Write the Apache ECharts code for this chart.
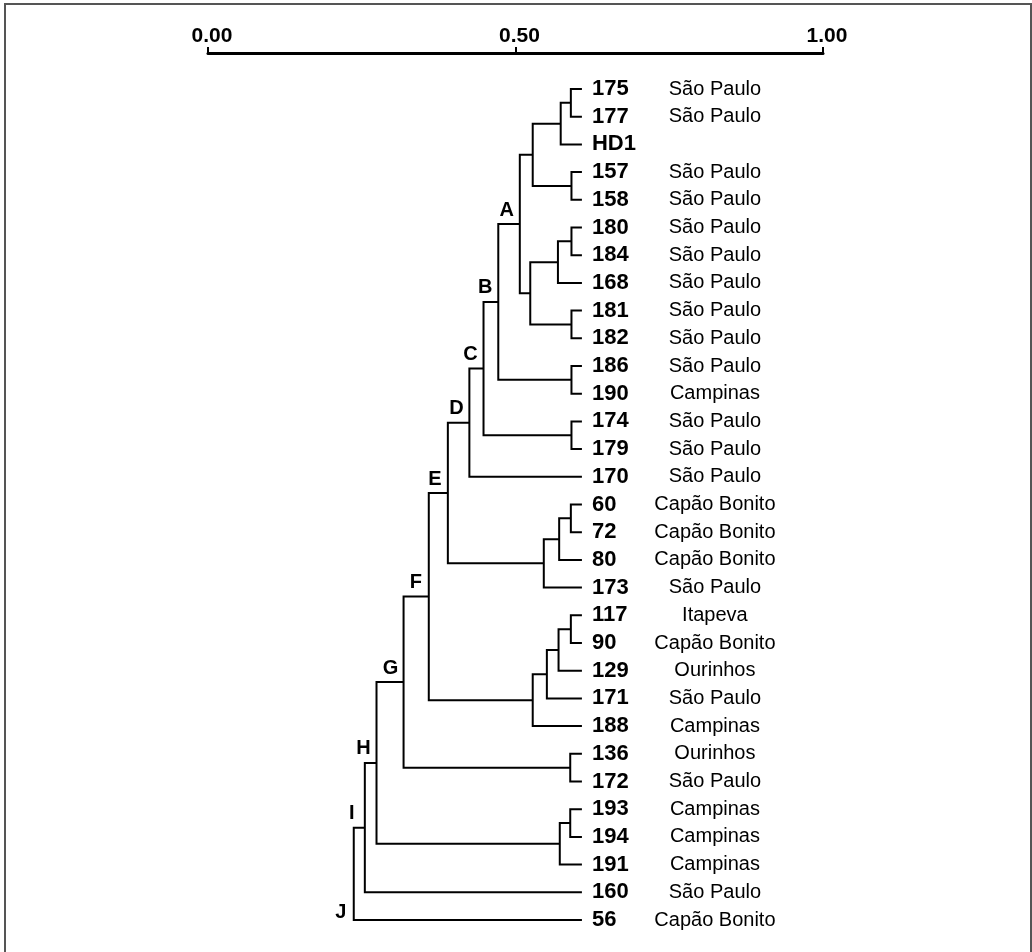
<!DOCTYPE html>
<html>
<head>
<meta charset="utf-8">
<script src="https://cdn.jsdelivr.net/npm/echarts@6/dist/echarts.min.js"></script>
<style>
  html, body { margin: 0; padding: 0; background: #fff; }
  #main { width: 1032px; height: 952px; }
</style>
</head>
<body>
<div id="main"></div>
<script>
// folhas, de cima para baixo
var leafIds = ['175','177','HD1','157','158','180','184','168','181','182','186','190','174','179','170',
  '60','72','80','173','117','90','129','171','188','136','172','193','194','191','160','56'];
var leafPlaces = ['São Paulo','São Paulo','','São Paulo','São Paulo','São Paulo','São Paulo','São Paulo',
  'São Paulo','São Paulo','São Paulo','Campinas','São Paulo','São Paulo','São Paulo',
  'Capão Bonito','Capão Bonito','Capão Bonito','São Paulo','Itapeva','Capão Bonito','Ourinhos',
  'São Paulo','Campinas','Ourinhos','São Paulo','Campinas','Campinas','Campinas','São Paulo','Capão Bonito'];
var leafTip = 0.608;

// agrupamentos: nome, filho 1, filho 2, nível
var mergeNames = ['n1','n2','n3','n4','n5','n6','n7','n8','A','n9','B','n10','C','D','n11','n12','n13','E',
  'n14','n15','n16','n17','F','n18','G','n19','n20','H','I','J'];
var mergeA = ['175','n1','157','n2','180','n5','181','n6','n4','186','A','174','B','C','60','n11','n12','D',
  '117','n14','n15','n16','E','136','F','193','n19','G','H','I'];
var mergeB = ['177','HD1','158','n3','184','168','182','n7','n8','190','n9','179','n10','170','72','80','173','n13',
  '90','129','171','188','n17','172','n18','194','191','n20','160','56'];
var mergeH = [0.590,0.5735,0.591,0.528,0.591,0.569,0.591,0.524,0.507,0.591,0.472,0.591,0.448,0.425,0.590,0.571,0.546,0.390,
  0.590,0.570,0.551,0.528,0.359,0.589,0.318,0.589,0.572,0.274,0.255,0.237];

var axisTicks = [0, 0.5, 1];

// posições dos nós
var nodeX = {}, nodeY = {};
leafIds.forEach(function (id, i) { nodeX[id] = leafTip; nodeY[id] = i; });
var bracketData = [];
mergeNames.forEach(function (name, k) {
  var a = mergeA[k], b = mergeB[k], h = mergeH[k];
  nodeX[name] = h;
  nodeY[name] = (nodeY[a] + nodeY[b]) / 2;
  bracketData.push({
    name: name,
    value: [h, nodeY[a], nodeY[b], nodeX[a], nodeX[b], nodeY[name]]
  });
});
var leafData = leafIds.map(function (id, i) { return { name: id, value: [leafTip, i] }; });

var myChart = echarts.init(document.getElementById('main'));
option = {
  backgroundColor: '#fff',
  animation: false,
  graphic: [{
    type: 'rect',
    shape: { x: 5, y: 4, width: 1026, height: 970 },
    style: { fill: 'none', stroke: '#555', lineWidth: 2 },
    silent: true
  }],
  grid: { left: 208, right: 209, top: 53, bottom: 32 },
  xAxis: {
    type: 'value',
    position: 'top',
    min: 0,
    max: 1,
    interval: 0.5,
    axisLine: { show: true, onZero: false, lineStyle: { color: '#000', width: 3 } },
    axisTick: { show: true, length: 6, lineStyle: { color: '#000', width: 2 } },
    axisLabel: {
      margin: 6,
      color: '#000',
      fontFamily: 'Liberation Sans',
      fontWeight: 'bold',
      fontSize: 21,
      padding: [0, 0, 0, 8],
      formatter: function (v) { return axisTicks.indexOf(v) >= 0 ? v.toFixed(2) : ''; }
    },
    splitLine: { show: false }
  },
  yAxis: {
    type: 'value',
    inverse: true,
    min: -1.3,
    max: 30,
    show: false
  },
  series: [
    {
      // colchetes do dendrograma
      type: 'custom',
      coordinateSystem: 'cartesian2d',
      encode: { x: [0, 3, 4], y: [1, 2] },
      data: bracketData,
      renderItem: function (params, api) {
        var h = api.value(0), ya = api.value(1), yb = api.value(2);
        var xa = api.value(3), xb = api.value(4), ym = api.value(5);
        var p1 = api.coord([xa, ya]), p2 = api.coord([h, ya]);
        var p3 = api.coord([h, yb]), p4 = api.coord([xb, yb]);
        var children = [{
          type: 'polyline',
          shape: { points: [p1, p2, p3, p4] },
          style: { stroke: '#000', lineWidth: 2, fill: null, lineJoin: 'miter' }
        }];
        var name = bracketData[params.dataIndex].name;
        if (name.charAt(0) !== 'n') {
          var pc = api.coord([h, ym]);
          var pm = name === 'J' ? [p3[0], p3[1] - 8] : [pc[0], pc[1] - 14];
          children.push({
            type: 'text',
            x: pm[0] - 13,
            y: pm[1],
            style: {
              text: name, fill: '#000', fontFamily: 'Liberation Sans', fontWeight: 'bold', fontSize: 20,
              align: 'center', verticalAlign: 'middle'
            }
          });
        }
        return { type: 'group', children: children };
      }
    },
    {
      // rótulos das folhas
      type: 'custom',
      coordinateSystem: 'cartesian2d',
      data: leafData,
      renderItem: function (params, api) {
        var p = api.coord([api.value(0), api.value(1)]);
        var i = params.dataIndex;
        return {
          type: 'group',
          children: [{
            type: 'text', x: p[0] + 10, y: p[1],
            style: {
              text: leafIds[i], fill: '#000', fontFamily: 'Liberation Sans', fontWeight: 'bold', fontSize: 22,
              align: 'left', verticalAlign: 'middle'
            }
          }, {
            type: 'text', x: p[0] + 133, y: p[1],
            style: {
              text: leafPlaces[i], fill: '#000', fontFamily: 'Liberation Sans', fontSize: 20,
              align: 'center', verticalAlign: 'middle'
            }
          }]
        };
      }
    }
  ]
};
myChart.setOption(option);
</script>
</body>
</html>
